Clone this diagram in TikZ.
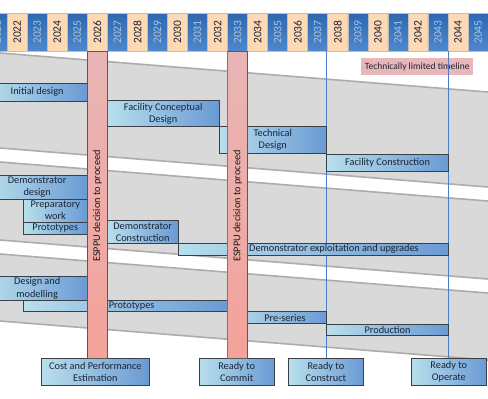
\documentclass[tikz,border=0pt]{standalone}
\usepackage{fontspec}
\setmainfont{Carlito}
\definecolor{hdrblueA}{HTML}{2D68B1}
\definecolor{hdrblueB}{HTML}{4F88CB}
\definecolor{hdrtxt}{HTML}{A9C3E3}
\definecolor{peach}{HTML}{FDD9B5}
\definecolor{navy}{HTML}{1B2433}
\definecolor{cellline}{HTML}{BFBFBF}
\definecolor{bandfill}{HTML}{D9D9D9}
\definecolor{bandline}{HTML}{ACACAC}
\definecolor{boxL}{HTML}{B8DFEC}
\definecolor{boxR}{HTML}{6A9AD4}
\definecolor{boxline}{HTML}{3B3F46}
\definecolor{barTop}{HTML}{E8B5B5}
\definecolor{barBot}{HTML}{F4A29A}
\definecolor{msblue}{HTML}{4A7EC7}
\definecolor{tlfill}{HTML}{E8B7BA}
\newcommand\lblfont{\fontsize{10.3}{12.2}\selectfont}
\newcommand\yrfont{\fontsize{11.5}{12}\selectfont}
\newcommand\tlfont{\fontsize{9.5}{11}\selectfont}
\begin{document}
\begin{tikzpicture}[x=1pt,y=-1pt,
  hcell/.style={rotate=90, minimum width=37.7pt, minimum height=20.04pt, inner sep=0pt, draw=cellline, line width=0.6pt, font=\yrfont},
  hblue/.style={hcell, top color=hdrblueA, bottom color=hdrblueB, text=hdrtxt},
  hpeach/.style={hcell, fill=peach, text=navy},
  bandedge/.style={draw=bandline, line width=1.6pt},
  gbox/.style={draw=boxline, line width=0.7pt, left color=boxL, right color=boxR, inner sep=0pt, align=center, text=navy, font=\lblfont},
  lbl/.style={inner sep=0pt, align=center, text=navy, font=\lblfont},
  esbar/.style={draw=black!65, line width=0.6pt, top color=barTop, bottom color=barBot, minimum width=20pt, inner sep=0pt},
  msline/.style={draw=msblue, line width=1.3pt},
  tlbox/.style={fill=tlfill, inner sep=0pt, minimum width=111.7pt, minimum height=16.7pt, font=\tlfont, text=navy}
]
\useasboundingbox (0,0) rectangle (488,399);
\clip (0,0) rectangle (488,399);

% slanted gray bands
\foreach \t/\b in {53/148,162/240,254/321}{
  \fill[bandfill] (-20,\t-1.6) -- (510,\t+40.8) -- (510,\b+40.8) -- (-20,\b-1.6) -- cycle;
  \draw[bandedge] (-20,\t-1.6) -- (510,\t+40.8);
  \draw[bandedge] (-20,\b-1.6) -- (510,\b+40.8);
}

% header of years
\foreach \yr in {2021,...,2045}{
  \pgfmathtruncatemacro\odd{mod(\yr,2)}
  \ifnum\odd=1
    \node[hblue] (y\yr) at ({87.3+(\yr-2026)*20.04+10.02},32.15) {\yr};
  \else
    \node[hpeach] (y\yr) at ({87.3+(\yr-2026)*20.04+10.02},32.15) {\yr};
  \fi
}

% label
\node[tlbox] (tlt) at (417.15,66.65) {Technically limited timeline};

% milestone line tops
\coordinate (m1) at (227.6,51);
\coordinate (m2) at (326.5,51);
\coordinate (m3) at (448.7,51);

% milestone boxes
\node[gbox, minimum width=107.3pt, minimum height=27.4pt] (cost) at (95.35,372) {Cost and Performance\\Estimation};
\node[gbox, minimum width=74.7pt, minimum height=27.4pt] (commit) at (236.65,372) {Ready to\\Commit};
\node[gbox, minimum width=75.7pt, minimum height=27.4pt] (construct) at (325.85,372) {Ready to\\Construct};
\node[gbox, minimum width=75pt, minimum height=27.4pt] (operate) at (448.8,372) {Ready to\\Operate};

\draw[msline] (m2) -- (m2 |- construct.north);
\draw[msline] (m3) -- (m3 |- operate.north);

% facility row
\node[gbox, minimum width=100.3pt, minimum height=18pt] (initdes) at (37.15,92) {Initial design};
\node[gbox, minimum width=111.7pt, minimum height=25.8pt] (fcd) at (163.15,113.6) {Facility Conceptual\\Design};
\node[gbox, minimum width=107.5pt, minimum height=27pt] (techdes) at (272.75,140) {Technical\\Design};
\node[gbox, minimum width=122.2pt, minimum height=17pt] (faccons) at (387.6,162.5) {Facility Construction};

% demonstrator row
\node[gbox, minimum width=100.3pt, minimum height=24pt] (demodes) at (37.15,187) {Demonstrator\\design};
\node[gbox, minimum width=64pt, minimum height=23pt] (prepwork) at (55.3,210.5) {Preparatory\\work};
\node[gbox, minimum width=64pt, minimum height=12pt] (demoproto) at (55.3,228) {Prototypes};
\node[gbox, minimum width=70.7pt, minimum height=22.3pt] (democons) at (142.65,231.85) {Demonstrator\\Construction};
\node[gbox, minimum width=270.7pt, minimum height=12pt] (demoexp) at (313.35,249) {};
\node[lbl, anchor=west] (demoexptxt) at (249,249) {Demonstrator exploitation and upgrades};

% detector row
\node[gbox, minimum width=100.3pt, minimum height=23.3pt] (designmod) at (37.15,288.35) {Design and\\modelling};
\node[gbox, minimum width=204.3pt, minimum height=11.7pt] (detproto) at (125.45,305.85) {};
\node[lbl, anchor=west] (detprototxt) at (108.6,305.85) {Prototypes};
\node[gbox, minimum width=98.9pt, minimum height=11.6pt] (preseries) at (277.05,317.5) {};
\node[lbl] (preseriestxt) at (285,317.5) {Pre-series};
\node[gbox, minimum width=122.2pt, minimum height=11.7pt] (production) at (387.6,329.85) {Production};

% ESPPU bars
\node[esbar, minimum height=307.3pt] (bar26) at (97.3,204.65) {};
\node[esbar, minimum height=307.3pt] (bar33) at (237.6,204.65) {};
\node[lbl, rotate=90, text=black!90] (esppu26) at (97.3,206) {ESPPU decision to proceed};
\node[lbl, rotate=90, text=black!90] (esppu33) at (237.6,206) {ESPPU decision to proceed};

\draw[msline] (m1) -- (m1 |- commit.north);
\end{tikzpicture}
\end{document}
